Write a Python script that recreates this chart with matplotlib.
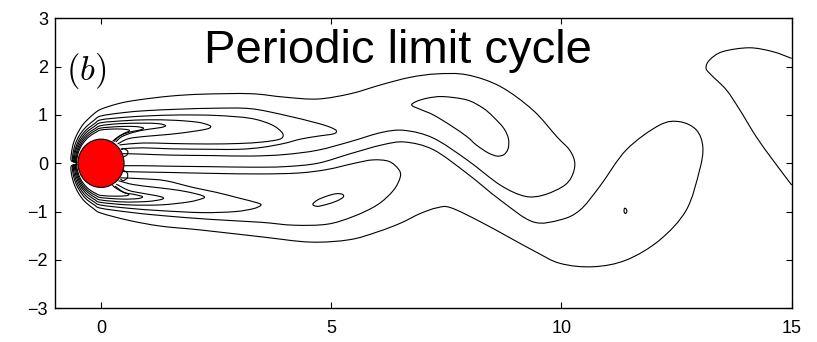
import numpy as np
import matplotlib
matplotlib.use("Agg")
import matplotlib.pyplot as plt
from matplotlib.path import Path
from matplotlib.patches import PathPatch, Circle

plt.rcParams['font.family'] = ['Liberation Sans', 'DejaVu Sans']
plt.rcParams['mathtext.fontset'] = 'cm'

# vorticity contour lines (x, y), upper shear layer family
u1 = [(-0.52, 0.015), (-0.647, 0.057), (-0.639, 0.233), (-0.598, 0.419), (-0.514, 0.613),
      (-0.381, 0.815), (-0.177, 1.005), (0.0, 1.12), (0.4, 1.24), (0.8, 1.31), (1.5, 1.39),
      (2.2, 1.43), (3.25, 1.44), (3.97, 1.37), (4.7, 1.33), (5.42, 1.44), (6.1, 1.63),
      (6.72, 1.78), (7.3, 1.85), (7.95, 1.83), (8.67, 1.59), (9.38, 1.1), (9.9, 0.55),
      (10.18, 0.27), (10.29, 0.0), (10.22, -0.28), (10.03, -0.48), (9.6, -0.66), (9.2, -0.68),
      (8.67, -0.45), (7.95, 0.07), (7.22, 0.52), (6.6, 0.68), (6.1, 0.64), (5.42, 0.45),
      (4.7, 0.27), (3.97, 0.18), (3.25, 0.15), (2.4, 0.16), (1.5, 0.17), (0.9, 0.19),
      (0.46, 0.2)]
u2 = [(-0.52, 0.015), (-0.618, 0.054), (-0.606, 0.221), (-0.561, 0.393), (-0.476, 0.567),
      (-0.343, 0.734), (-0.157, 0.886), (0.0, 0.98), (0.5, 1.05), (1.0, 1.09), (1.7, 1.12),
      (2.5, 1.14), (3.25, 1.13), (3.97, 1.0), (4.7, 0.83), (4.98, 0.745), (5.11, 0.675),
      (5.05, 0.61), (4.7, 0.56), (4.33, 0.5), (3.97, 0.41), (3.5, 0.33), (3.0, 0.29),
      (2.4, 0.29), (1.5, 0.3), (0.9, 0.32), (0.43, 0.3)]
u3 = [(-0.52, 0.015), (-0.598, 0.052), (-0.583, 0.212), (-0.532, 0.373), (-0.45, 0.536),
      (-0.321, 0.689), (-0.144, 0.818), (0.0, 0.9), (0.5, 0.95), (1.0, 0.98), (1.7, 1.0),
      (2.5, 0.99), (3.25, 0.93), (3.7, 0.8), (3.92, 0.65), (3.95, 0.55), (3.85, 0.49),
      (3.5, 0.44), (3.0, 0.41), (2.3, 0.4), (1.5, 0.41), (0.9, 0.42), (0.4, 0.38)]
u4 = [(-0.52, 0.015), (-0.578, 0.05), (-0.564, 0.205), (-0.512, 0.359), (-0.428, 0.509),
      (-0.305, 0.652), (-0.136, 0.768), (0.0, 0.84), (0.5, 0.88), (1.0, 0.9), (1.6, 0.89),
      (2.1, 0.85), (2.34, 0.79), (2.38, 0.75), (2.3, 0.71), (2.0, 0.66), (1.5, 0.6),
      (1.0, 0.56), (0.6, 0.51), (0.36, 0.4)]
u5 = [(-0.52, 0.015), (-0.558, 0.049), (-0.541, 0.197), (-0.491, 0.344), (-0.408, 0.486),
      (-0.288, 0.616), (-0.127, 0.719), (0.0, 0.78), (0.4, 0.82), (0.9, 0.83), (1.25, 0.82),
      (1.4, 0.78), (1.3, 0.74), (1.0, 0.7), (0.7, 0.64), (0.45, 0.55), (0.32, 0.44)]
u6 = [(-0.52, 0.015), (-0.543, 0.047), (-0.522, 0.19), (-0.471, 0.33), (-0.389, 0.463),
      (-0.273, 0.584), (-0.12, 0.68), (0.0, 0.73), (0.4, 0.76), (0.75, 0.76), (0.92, 0.73),
      (0.85, 0.69), (0.6, 0.64), (0.4, 0.56), (0.28, 0.45)]
u7 = [(-0.52, 0.015), (-0.528, 0.046), (-0.505, 0.184), (-0.452, 0.317), (-0.37, 0.44),
      (-0.258, 0.553), (-0.113, 0.64), (0.0, 0.69), (0.3, 0.71), (0.55, 0.7), (0.62, 0.67),
      (0.5, 0.62), (0.33, 0.52), (0.25, 0.45)]

# lower shear layer family
l1 = [(-0.52, -0.015), (-0.647, -0.057), (-0.639, -0.233), (-0.59, -0.413), (-0.502, -0.597),
      (-0.364, -0.779), (-0.165, -0.936), (0.0, -1.03), (0.6, -1.18), (1.3, -1.3),
      (2.17, -1.38), (3.47, -1.52), (4.55, -1.63), (5.4, -1.58), (6.0, -1.42), (6.5, -1.24),
      (6.93, -1.04), (7.3, -0.92), (7.6, -0.92), (8.3, -1.24), (9.38, -1.8), (9.97, -2.07),
      (10.69, -2.14), (11.41, -2.0), (12.13, -1.59), (12.71, -0.97), (13.0, -0.14),
      (13.07, 0.34), (12.93, 0.69), (12.57, 0.86), (12.13, 0.79), (11.41, 0.28),
      (10.83, -0.48), (10.4, -0.97), (9.97, -1.17), (9.38, -1.21), (8.67, -0.76),
      (7.95, -0.21), (7.22, 0.28), (6.6, 0.44), (6.1, 0.38), (5.42, 0.2), (4.7, 0.0),
      (3.97, -0.07), (3.25, -0.08), (2.4, -0.07), (1.5, -0.06), (0.9, -0.05), (0.48, -0.05)]
l2 = [(-0.52, -0.015), (-0.618, -0.054), (-0.606, -0.221), (-0.557, -0.39), (-0.469, -0.559),
      (-0.338, -0.725), (-0.151, -0.857), (0.0, -0.93), (0.6, -1.01), (1.3, -1.08),
      (2.38, -1.16), (3.47, -1.22), (4.18, -1.28), (4.91, -1.26), (5.48, -1.1), (6.0, -0.86),
      (6.35, -0.56), (6.5, -0.28), (6.46, -0.12), (6.25, 0.04), (5.9, 0.07), (5.5, 0.0),
      (4.9, -0.13), (4.3, -0.2), (3.5, -0.22), (2.5, -0.21), (1.5, -0.19), (0.9, -0.18),
      (0.48, -0.17)]
l3 = [(-0.52, -0.015), (-0.598, -0.052), (-0.583, -0.212), (-0.532, -0.373), (-0.447, -0.532),
      (-0.319, -0.684), (-0.142, -0.803), (0.0, -0.865), (0.6, -0.93), (1.3, -0.98),
      (2.2, -1.02), (2.9, -1.0), (3.3, -0.94), (3.47, -0.87), (3.4, -0.82), (3.0, -0.72),
      (2.5, -0.6), (2.0, -0.5), (1.4, -0.36), (0.9, -0.32), (0.42, -0.3)]
l4 = [(-0.52, -0.015), (-0.578, -0.051), (-0.559, -0.203), (-0.508, -0.356), (-0.424, -0.506),
      (-0.3, -0.643), (-0.133, -0.754), (0.0, -0.81), (0.6, -0.86), (1.3, -0.86), (1.9, -0.8),
      (2.2, -0.73), (2.24, -0.69), (2.1, -0.64), (1.7, -0.56), (1.2, -0.5), (0.7, -0.44),
      (0.38, -0.36)]
l5 = [(-0.52, -0.015), (-0.558, -0.049), (-0.538, -0.196), (-0.487, -0.341), (-0.405, -0.483),
      (-0.283, -0.607), (-0.125, -0.709), (0.0, -0.76), (0.5, -0.8), (1.0, -0.79), (1.3, -0.75),
      (1.35, -0.71), (1.2, -0.67), (0.9, -0.62), (0.6, -0.56), (0.33, -0.43)]
l6 = [(-0.52, -0.015), (-0.543, -0.047), (-0.52, -0.189), (-0.467, -0.327), (-0.386, -0.46),
      (-0.269, -0.575), (-0.117, -0.665), (0.0, -0.71), (0.45, -0.74), (0.8, -0.73),
      (0.9, -0.69), (0.75, -0.65), (0.5, -0.6), (0.3, -0.47)]
l7 = [(-0.52, -0.015), (-0.528, -0.046), (-0.503, -0.183), (-0.449, -0.315), (-0.366, -0.437),
      (-0.254, -0.544), (-0.11, -0.625), (0.0, -0.665), (0.3, -0.68), (0.55, -0.67),
      (0.6, -0.64), (0.48, -0.6), (0.3, -0.5), (0.25, -0.45)]

# small secondary vorticity curls on the rear of the cylinder
rear_upper = [(0.47, 0.13), (0.56, 0.17), (0.58, 0.25), (0.5, 0.3), (0.44, 0.28)]
rear_lower = [(0.48, -0.14), (0.57, -0.2), (0.57, -0.3), (0.48, -0.36), (0.42, -0.32)]

# closed islands (vortex cores) and the previously shed vortex at the right
island_b = [(6.75, 1.2), (6.85, 1.28), (7.1, 1.35), (7.43, 1.38), (7.95, 1.31), (8.3, 1.14),
            (8.52, 0.96), (8.75, 0.72), (8.85, 0.5), (8.84, 0.3), (8.75, 0.18), (8.6, 0.15),
            (8.4, 0.22), (8.15, 0.38), (7.95, 0.55), (7.6, 0.78), (7.22, 1.0), (6.95, 1.11)]
island_e = [(4.6, -0.85), (4.7, -0.76), (4.9, -0.68), (5.1, -0.63), (5.24, -0.64),
            (5.26, -0.7), (5.12, -0.78), (4.9, -0.85), (4.7, -0.89)]
island_s = [(11.37, -0.93), (11.41, -0.95), (11.42, -1.0), (11.39, -1.04), (11.36, -1.0)]
shed_top = [(15.0, 2.17), (14.59, 2.31), (14.08, 2.39), (13.5, 2.31), (13.22, 2.14),
            (13.14, 1.97), (13.25, 1.83), (13.58, 1.52), (13.87, 1.11), (14.23, 0.55),
            (14.59, 0.07), (15.0, -0.45)]

open_lines = [u1, u2, u3, u4, u5, u6, u7, l1, l2, l3, l4, l5, l6, l7,
              rear_upper, rear_lower, shed_top]
closed_lines = [island_b, island_e, island_s]

xticks = [0, 5, 10, 15]
yticks = [-3, -2, -1, 0, 1, 2, 3]


def smooth_path(pts, closed=False):
    # Catmull-Rom through the points, handed to matplotlib as cubic Bezier segments
    p = np.asarray(pts, float)
    if closed:
        p = np.vstack([p, p[:1]])
    m = len(p)

    def at(i):
        if closed:
            return p[i % (m - 1)]
        return p[min(max(i, 0), m - 1)]

    verts = [p[0]]
    codes = [Path.MOVETO]
    for i in range(m - 1):
        c1 = p[i] + (at(i + 1) - at(i - 1)) / 6.0
        c2 = p[i + 1] - (at(i + 2) - at(i)) / 6.0
        verts += [c1, c2, p[i + 1]]
        codes += [Path.CURVE4] * 3
    return Path(verts, codes)


fig = plt.figure(figsize=(8.17, 3.42), dpi=100)
ax = fig.add_axes([0.0673, 0.0985, 0.9017, 0.848])

for line in open_lines:
    ax.add_patch(PathPatch(smooth_path(line), fill=False, ec='black', lw=0.8))
for line in closed_lines:
    ax.add_patch(PathPatch(smooth_path(line, closed=True), fill=False, ec='black', lw=0.8))

ax.add_patch(Circle((0, 0), 0.5, fc='#ff0000', ec='black', lw=0.8, zorder=5))

ax.set_xlim(-1, 15)
ax.set_ylim(-3, 3)
ax.set_xticks(xticks)
ax.set_yticks(yticks)
ax.set_yticklabels([str(v).replace('-', '\u2212') for v in yticks])
ax.tick_params(direction='in', top=True, right=True, length=4.5, width=0.8,
               labelsize=13)
ax.tick_params(axis='x', pad=8.5)
ax.tick_params(axis='y', pad=5)
for s in ax.spines.values():
    s.set_linewidth(1.0)

ax.text(2.24, 2.07, 'Periodic limit cycle', fontsize=34, ha='left', va='baseline')
ax.text(-0.77, 1.73, r'$(b)$', fontsize=25, ha='left', va='baseline')

fig.savefig('out.png', dpi=100)
